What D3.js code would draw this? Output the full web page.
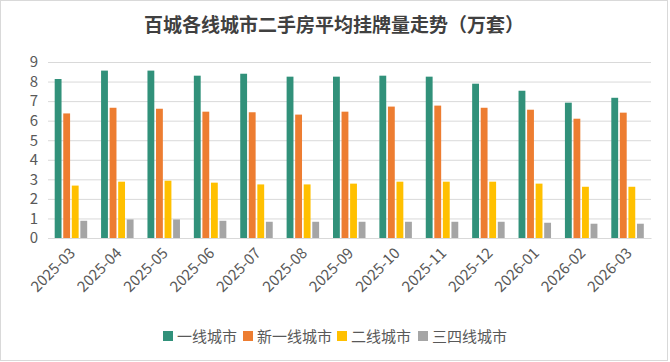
<!DOCTYPE html>
<html>
<head>
<meta charset="utf-8">
<script src="https://cdn.jsdelivr.net/npm/d3@7"></script>
<style>
  html, body { margin: 0; padding: 0; background: #fff; }
  svg { display: block; font-family: "Noto Sans CJK SC", "Noto Sans", sans-serif; }
</style>
</head>
<body>
<svg id="chart"></svg>
<script>
const months = ['2025-03', '2025-04', '2025-05', '2025-06', '2025-07', '2025-08', '2025-09',
  '2025-10', '2025-11', '2025-12', '2026-01', '2026-02', '2026-03']
const seriesNames = ['一线城市', '新一线城市', '二线城市', '三四线城市']
const tier1 = [8.13, 8.56, 8.56, 8.30, 8.40, 8.25, 8.25, 8.30, 8.25, 7.89, 7.53, 6.92, 7.17]
const newTier1 = [6.37, 6.66, 6.61, 6.46, 6.43, 6.31, 6.46, 6.72, 6.77, 6.66, 6.56, 6.10, 6.41]
const tier2 = [2.68, 2.88, 2.93, 2.83, 2.74, 2.74, 2.78, 2.88, 2.88, 2.88, 2.78, 2.62, 2.62]
const tier34 = [0.88, 0.95, 0.95, 0.88, 0.83, 0.83, 0.83, 0.83, 0.83, 0.83, 0.78, 0.73, 0.73]
const yTicks = [0, 1, 2, 3, 4, 5, 6, 7, 8, 9]
const colors = ['#31917a', '#ed7d31', '#ffc000', '#a5a5a5']

const width = 670
const height = 362
const margin = { top: 62, right: 19, bottom: 124, left: 48 }

const data = months.map((m, i) => ({
  month: m,
  values: [tier1[i], newTier1[i], tier2[i], tier34[i]]
}))

const svg = d3.select('#chart')
  .attr('width', width)
  .attr('height', height)

svg.append('rect')
  .attr('x', 0.5).attr('y', 0.5)
  .attr('width', width - 3).attr('height', height - 2)
  .attr('fill', '#fff')
  .attr('stroke', '#d9d9d9')

svg.append('text')
  .attr('x', 334)
  .attr('y', 32)
  .attr('text-anchor', 'middle')
  .attr('font-size', 19)
  .attr('font-weight', 'bold')
  .attr('fill', '#404040')
  .text('百城各线城市二手房平均挂牌量走势（万套）')

const x = d3.scaleBand()
  .domain(months)
  .range([margin.left, width - margin.right])

const x1 = d3.scaleBand()
  .domain(d3.range(seriesNames.length))
  .range([-16.5, 16])
  .paddingInner(0.2)

const y = d3.scaleLinear()
  .domain([0, 9])
  .range([height - margin.bottom, margin.top])

// gridlines
svg.append('g')
  .call(d3.axisLeft(y).tickValues(yTicks).tickSize(-(width - margin.left - margin.right)).tickFormat(''))
  .attr('transform', `translate(${margin.left},0)`)
  .call(g => g.select('.domain').remove())
  .call(g => g.selectAll('line').attr('stroke', '#d9d9d9'))

// y labels
svg.append('g')
  .attr('transform', `translate(${margin.left},0)`)
  .call(d3.axisLeft(y).tickValues(yTicks).tickSize(0).tickPadding(10))
  .call(g => g.select('.domain').remove())
  .call(g => g.selectAll('text')
    .attr('font-size', 15)
    .attr('font-family', '"Noto Sans CJK SC", sans-serif')
    .attr('fill', '#595959'))

// bars
svg.append('g')
  .selectAll('g').data(data).enter().append('g')
  .attr('transform', d => `translate(${x(d.month) + x.bandwidth() / 2},0)`)
  .selectAll('rect').data(d => d.values).enter().append('rect')
  .attr('x', (d, i) => x1(i))
  .attr('width', x1.bandwidth())
  .attr('y', d => y(d))
  .attr('height', d => y(0) - y(d))
  .attr('fill', (d, i) => colors[i])

// x axis
svg.append('g')
  .attr('transform', `translate(0,${y(0)})`)
  .call(d3.axisBottom(x).tickSize(0).tickPadding(0))
  .call(g => g.select('.domain').attr('stroke', '#d9d9d9'))
  .call(g => g.selectAll('text')
    .attr('font-size', 15)
    .attr('font-family', '"Noto Sans CJK SC", sans-serif')
    .attr('fill', '#595959')
    .attr('text-anchor', 'end')
    .attr('dy', null)
    .attr('y', 0)
    .attr('transform', 'translate(5,16) rotate(-45)'))

// legend
const legendX = [163, 243, 337, 418]
const legend = svg.append('g')
  .selectAll('g').data(seriesNames).enter().append('g')
  .attr('transform', (d, i) => `translate(${legendX[i]},336)`)

legend.append('rect')
  .attr('x', 0).attr('y', -5)
  .attr('width', 10).attr('height', 10)
  .attr('fill', (d, i) => colors[i])

legend.append('text')
  .attr('x', 14)
  .attr('y', 5.5)
  .attr('font-size', 15)
  .attr('fill', '#595959')
  .text(d => d)
</script>
</body>
</html>
